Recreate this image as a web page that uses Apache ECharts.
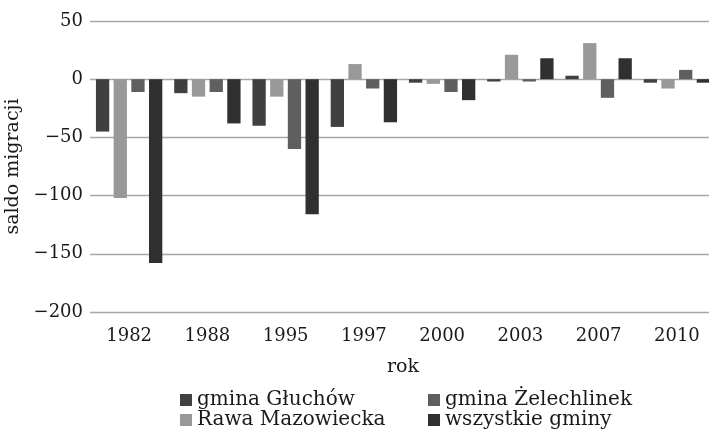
<!DOCTYPE html>
<html>
<head>
<meta charset="utf-8">
<script src="https://cdn.jsdelivr.net/npm/echarts@6/dist/echarts.min.js"></script>
<style>
  html, body { margin: 0; padding: 0; background: #fff; }
  #chart { width: 709px; height: 431px; }
</style>
</head>
<body>
<div id="chart"></div>
<script>
// Years on the category axis
const years = ['1982', '1988', '1995', '1997', '2000', '2003', '2007', '2010'];

// Net migration per municipality
const gluchow = [-45, -12, -40, -41, -3, -2, 3, -3];
const rawa = [-102, -15, -15, 13, -4, 21, 31, -8];
const zelechlinek = [-11, -11, -60, -8, -11, -2, -16, 8];
const wszystkie = [-158, -38, -116, -37, -18, 18, 18, -3];

// Series names (bar order within each year)
const names = ['gmina Głuchów', 'Rawa Mazowiecka', 'gmina Żelechlinek', 'wszystkie gminy'];
const colors = ['#404040', '#999999', '#5f5f5f', '#303030'];
const values = [gluchow, rawa, zelechlinek, wszystkie];

const FONT = '"DejaVu Serif", serif';
const TEXT = '#1a1a1a';
const minus = v => String(v).replace('-', '\u2212');

const chart = echarts.init(document.getElementById('chart'), null, { renderer: 'canvas' });

chart.setOption({
  animation: false,
  backgroundColor: '#fff',
  color: colors,
  grid: {
    left: 90, right: -7, top: 21, bottom: 119,
    containLabel: false,
    outerBoundsMode: 'none'
  },
  legend: [
    {
      data: [names[0], names[1]],
      orient: 'vertical',
      left: 180, top: 390, padding: 0, itemGap: 0,
      itemWidth: 12, itemHeight: 12, icon: 'rect',
      textStyle: { fontFamily: FONT, fontSize: 20, color: TEXT, lineHeight: 17 }
    },
    {
      data: [names[2], names[3]],
      orient: 'vertical',
      left: 428, top: 390, padding: 0, itemGap: 0,
      itemWidth: 12, itemHeight: 12, icon: 'rect',
      textStyle: { fontFamily: FONT, fontSize: 20, color: TEXT, lineHeight: 17 }
    }
  ],
  xAxis: {
    type: 'category',
    data: years,
    name: 'rok',
    nameLocation: 'middle',
    nameGap: 46,
    nameTextStyle: { fontFamily: FONT, fontSize: 19, color: TEXT },
    axisLine: { show: false },
    axisTick: { show: false },
    axisLabel: { fontFamily: FONT, fontSize: 18, color: TEXT, margin: 15, interval: 0 }
  },
  yAxis: {
    type: 'value',
    min: -200, max: 50, interval: 50,
    name: 'saldo migracji',
    nameLocation: 'middle',
    nameGap: 62,
    nameTextStyle: { fontFamily: FONT, fontSize: 19, color: TEXT },
    axisLine: { show: false },
    axisTick: { show: false },
    axisLabel: { fontFamily: FONT, fontSize: 18, color: TEXT, margin: 7, formatter: minus },
    splitLine: { lineStyle: { color: '#a6a6a6', width: 1.3 } }
  },
  series: names.map((n, i) => ({
    name: n,
    type: 'bar',
    data: values[i],
    barWidth: 13.3,
    barGap: '33%',
    itemStyle: { color: colors[i] }
  }))
});
</script>
</body>
</html>
